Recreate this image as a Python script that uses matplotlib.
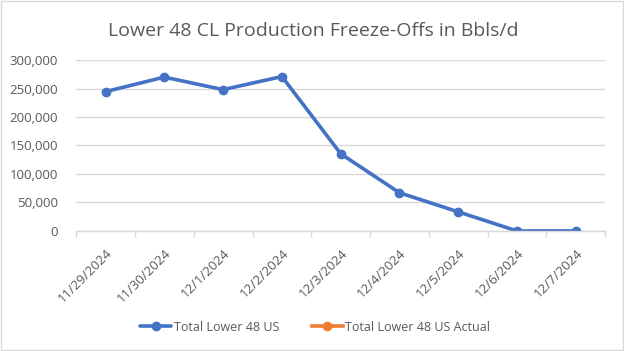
import matplotlib as mpl
mpl.use('Agg')
import matplotlib.pyplot as plt
import numpy as np

dates = ['11/29/2024', '11/30/2024', '12/1/2024', '12/2/2024', '12/3/2024',
         '12/4/2024', '12/5/2024', '12/6/2024', '12/7/2024']
total_lower48 = [244500, 270000, 248000, 271000, 135500, 67000, 33500, 0, 0]
total_lower48_actual = []

plt.rcParams['font.family'] = ['Open Sans', 'DejaVu Sans']

fig = plt.figure(figsize=(6.24, 3.51), dpi=100)
ax = fig.add_axes([0.122, 0.342, 0.848, 0.487])

x = np.arange(len(dates))
ax.plot(x, total_lower48, color='#4472C4', lw=2.6, marker='o', ms=6,
        label='Total Lower 48 US', solid_capstyle='round')
ax.plot(x[:len(total_lower48_actual)], total_lower48_actual, color='#ED7D31',
        lw=2.6, marker='o', ms=6, label='Total Lower 48 US Actual')

ax.set_xlim(-0.5, len(dates) - 0.5)
ax.set_ylim(0, 300000)
ax.set_yticks(np.arange(0, 300001, 50000))
ax.set_yticklabels([f'{v:,}' for v in range(0, 300001, 50000)],
                   fontsize=9.5, color='#595959')
ax.set_xticks(x)
ax.set_xticklabels(dates, rotation=45, ha='right', rotation_mode='anchor',
                   fontsize=9.5, color='#595959')
ax.tick_params(axis='x', which='major', length=0, pad=11)
ax.set_xticks(np.arange(-0.5, len(dates), 1), minor=True)
ax.tick_params(axis='x', which='minor', length=4, color='#D9D9D9', width=1)
ax.tick_params(axis='y', length=0, pad=13)

ax.grid(axis='y', color='#D9D9D9', lw=1)
ax.set_axisbelow(True)
for s in ['top', 'right', 'left']:
    ax.spines[s].set_visible(False)
ax.spines['bottom'].set_color('#D9D9D9')
ax.spines['bottom'].set_linewidth(1)

fig.text(0.502, 0.912, 'Lower 48 CL Production Freeze-Offs in Bbls/d',
         ha='center', va='center', fontsize=14, color='#595959')

fig.legend(loc='center', bbox_to_anchor=(0.505, 0.068), ncol=2, frameon=False,
           fontsize=9, handlelength=2.5, handletextpad=0.2, columnspacing=2.6,
           labelcolor='#595959')

fig.patches.append(plt.Rectangle((0.001, 0.002), 0.997, 0.995,
                                 transform=fig.transFigure, fill=False,
                                 edgecolor='#D9D9D9', lw=1))

fig.savefig('out.png', dpi=100)
